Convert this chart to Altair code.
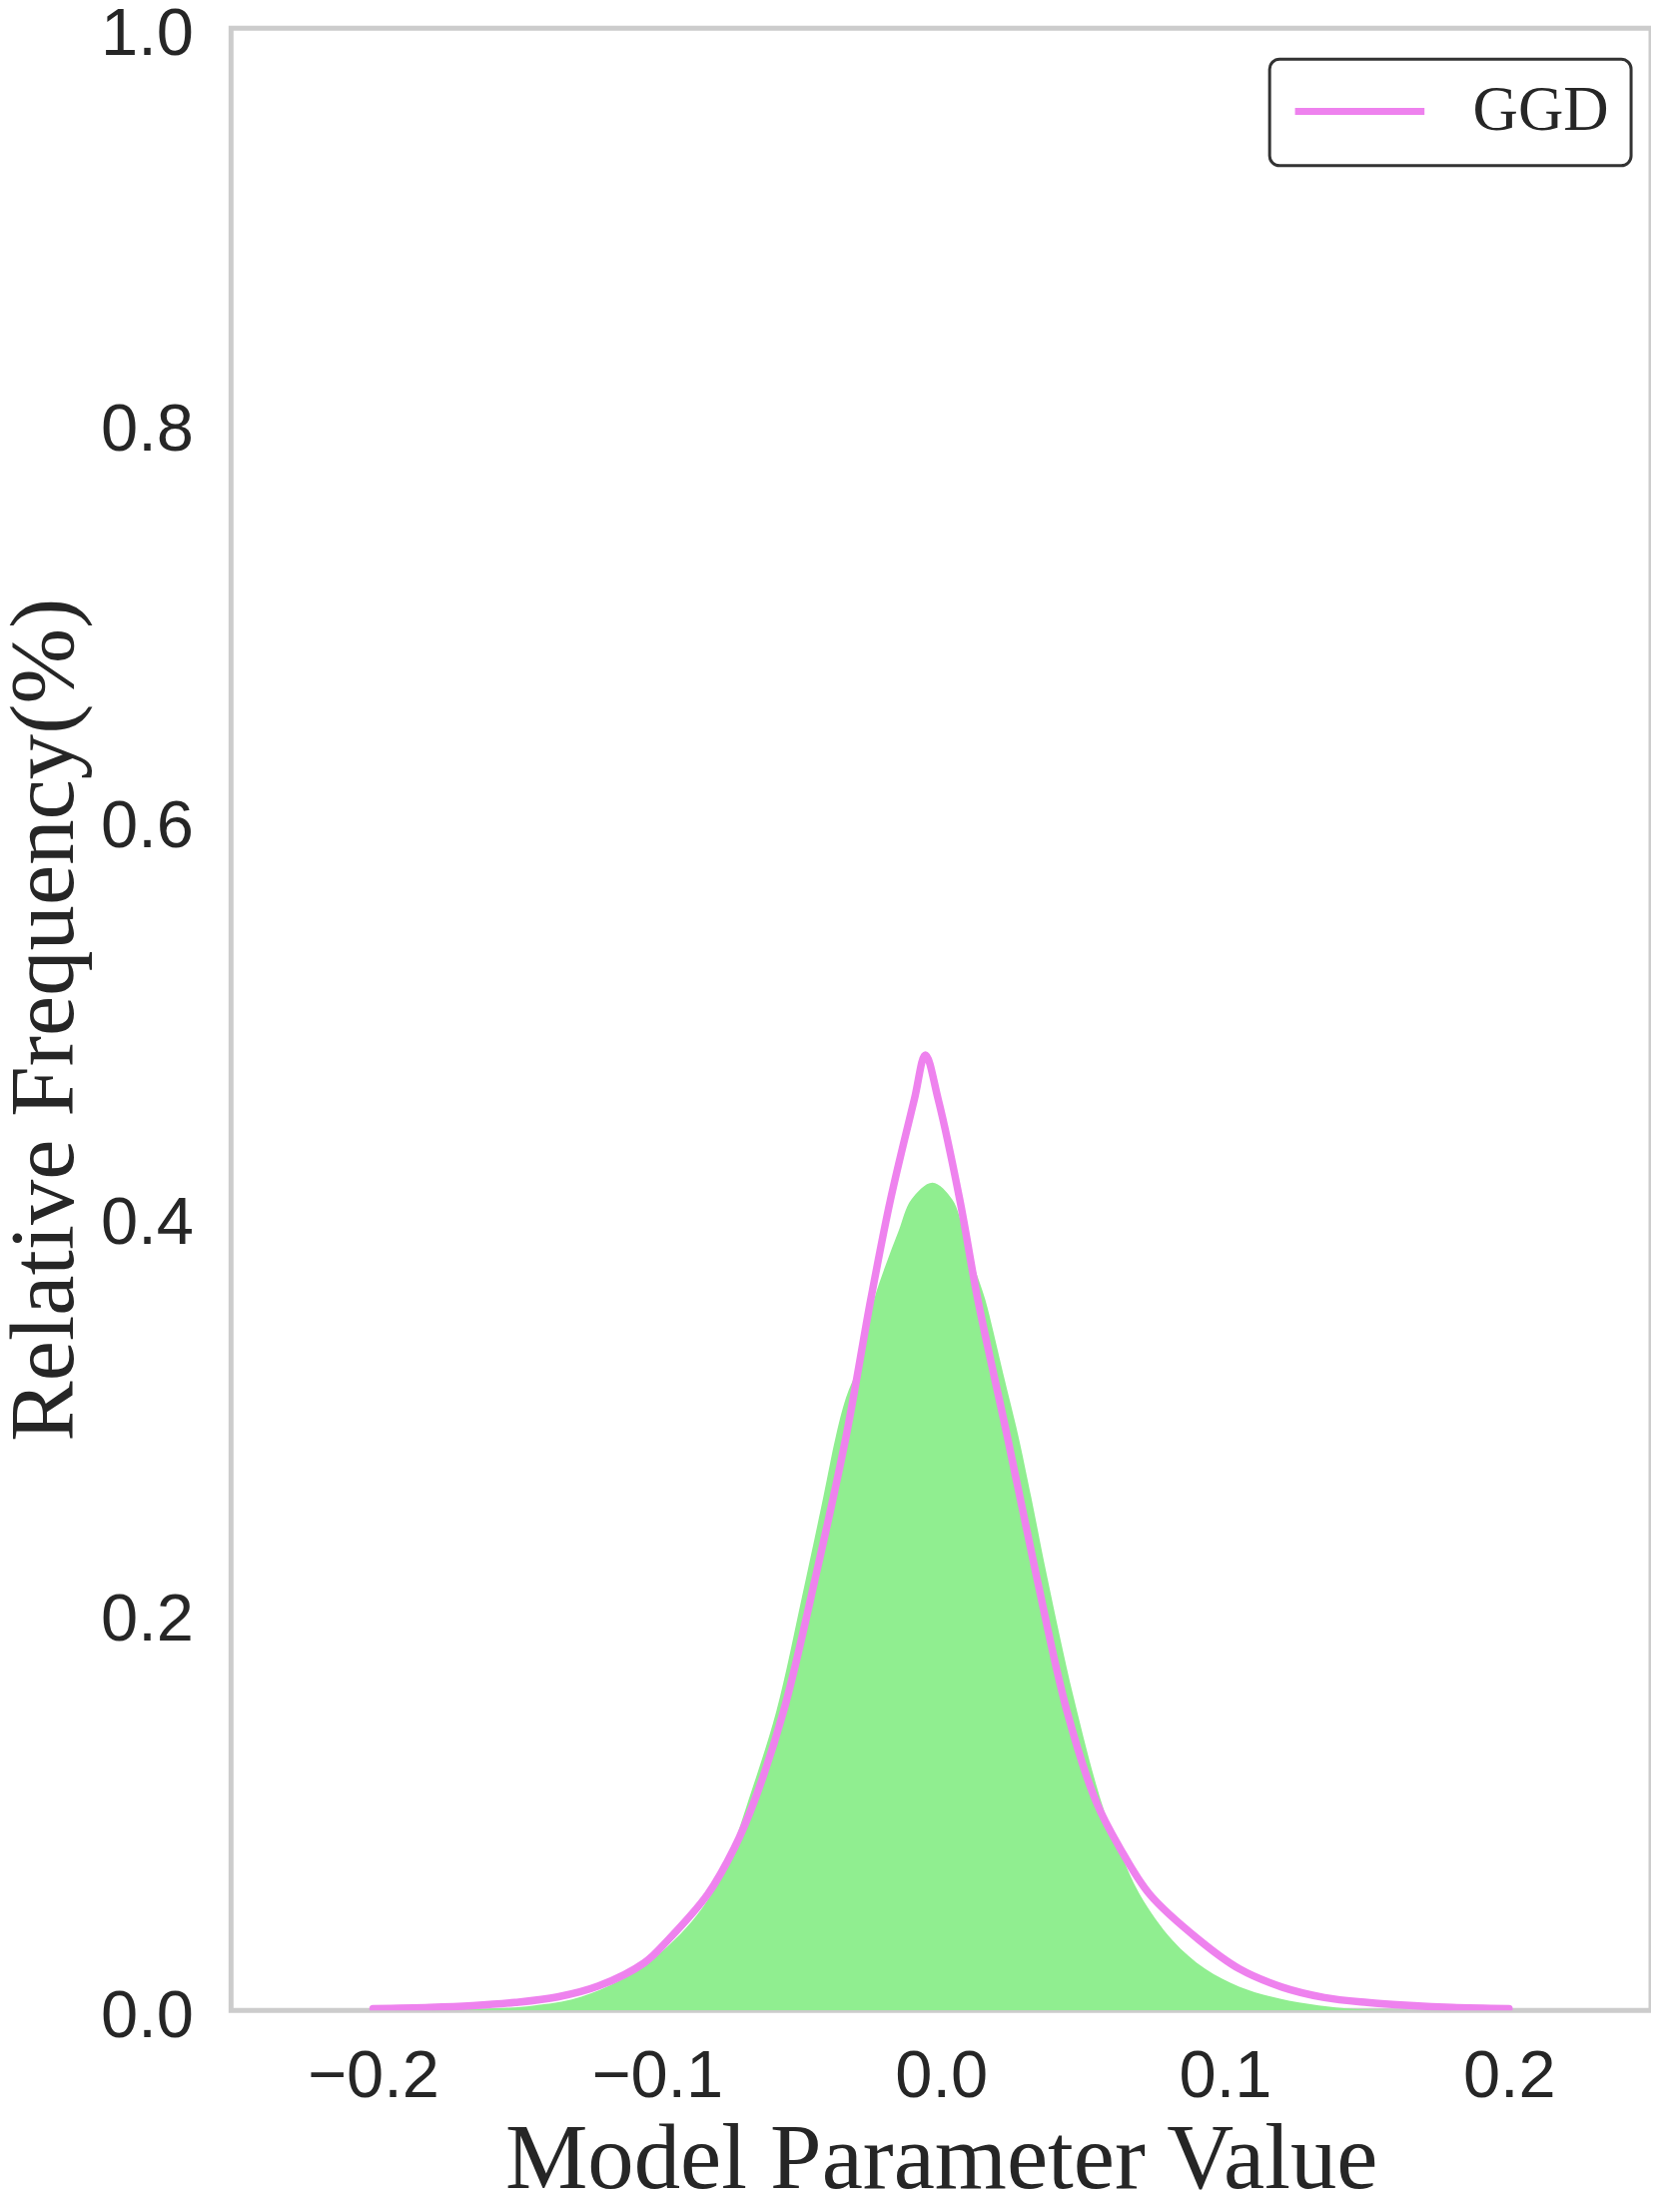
import altair as alt
import pandas as pd

# GGD fitted curve
ggd_x = [-0.200, -0.180, -0.165, -0.150, -0.135, -0.1206, -0.1045, -0.0962, -0.0822, -0.0728,
         -0.0659, -0.0554, -0.0439, -0.0334, -0.0247, -0.0178, -0.0094, -0.0055, -0.001, 0.0066,
         0.0129, 0.0233, 0.0334, 0.0443, 0.0547, 0.063, 0.0735, 0.091, 0.105, 0.120,
         0.135, 0.150, 0.165, 0.180, 0.200]
ggd_y = [0.0009, 0.0015, 0.0024, 0.0040, 0.0068, 0.0123, 0.0240, 0.0354, 0.0585, 0.0819,
         0.1050, 0.1512, 0.2205, 0.2898, 0.3590, 0.4090, 0.4596, 0.4820, 0.4596, 0.4090,
         0.3590, 0.2898, 0.2205, 0.1512, 0.1050, 0.0819, 0.0585, 0.0354, 0.0210, 0.0118,
         0.0065, 0.0040, 0.0025, 0.0015, 0.0009]

# Histogram of parameters (outline)
hist_x = [-0.200, -0.180, -0.160, -0.145, -0.130, -0.117, -0.105, -0.094, -0.086, -0.0795,
          -0.0735, -0.0685, -0.058, -0.049, -0.0415, -0.037, -0.0335, -0.029, -0.026, -0.0235,
          -0.0195, -0.015, -0.0105, -0.003, 0.004, 0.008, 0.0115, 0.0155, 0.0185, 0.0212,
          0.024, 0.0272, 0.0318, 0.0372, 0.0467, 0.0565, 0.0625, 0.0700, 0.0815, 0.093,
          0.105, 0.119, 0.133, 0.145, 0.160, 0.200]
hist_y = [0.0, 0.0003, 0.0008, 0.0022, 0.0055, 0.0123, 0.0220, 0.0354, 0.0480, 0.0620,
          0.0820, 0.1030, 0.1510, 0.2084, 0.2587, 0.2900, 0.3090, 0.3255, 0.3420, 0.3590,
          0.3760, 0.3930, 0.4090, 0.4176, 0.4090, 0.3930, 0.3760, 0.3590, 0.3420, 0.3255,
          0.3090, 0.2900, 0.2587, 0.2200, 0.1580, 0.1050, 0.0820, 0.0585, 0.0354, 0.0210,
          0.0120, 0.0060, 0.0025, 0.0008, 0.0003, 0.0]

x_ticks = [-0.2, -0.1, 0.0, 0.1, 0.2]
y_ticks = [0.0, 0.2, 0.4, 0.6, 0.8, 1.0]
series_name = ["GGD"] * len(ggd_x)

df_ggd = pd.DataFrame({"x": ggd_x, "y": ggd_y, "series": series_name})
df_hist = pd.DataFrame({"x": hist_x, "y": hist_y})

TXT = "#262626"
W, H = 1426, 1990

x_axis = alt.Axis(values=x_ticks, format=".1f", title="Model Parameter Value",
                  grid=False, domain=False, ticks=False, tickSize=0,
                  labelFont="Liberation Sans", labelFontSize=67, labelColor=TXT,
                  labelPadding=87, labelBaseline="alphabetic", labelFlush=False,
                  labelOverlap=False,
                  titleFont="Liberation Serif", titleFontSize=93, titleFontWeight="normal",
                  titleColor=TXT, titleX=W / 2, titleY=178, titleBaseline="alphabetic",
                  titleAlign="center")
y_axis = alt.Axis(values=y_ticks, format=".1f", title="Relative Frequency(%)",
                  grid=False, domain=False, ticks=False, tickSize=0,
                  labelFont="Liberation Sans", labelFontSize=67, labelColor=TXT,
                  labelPadding=38, labelFlush=False, labelOverlap=False, labelOffset=6,
                  titleFont="Liberation Serif", titleFontSize=91, titleFontWeight="normal",
                  titleColor=TXT, titleX=-159, titleY=H / 2, titleAngle=270,
                  titleBaseline="alphabetic", titleAlign="center")

xs = alt.Scale(domain=[-0.25, 0.25], nice=False, zero=False)
ys = alt.Scale(domain=[0, 1], nice=False)

area = alt.Chart(df_hist).mark_area(color="#90EE90", opacity=1, interpolate="catmull-rom",
                                    clip=True).encode(
    x=alt.X("x:Q", scale=xs, axis=x_axis),
    y=alt.Y("y:Q", scale=ys, axis=y_axis),
)

line = alt.Chart(df_ggd).mark_line(strokeWidth=7.5, interpolate="catmull-rom",
                                   strokeJoin="round", strokeCap="round", clip=True).encode(
    x=alt.X("x:Q", scale=xs, axis=x_axis),
    y=alt.Y("y:Q", scale=ys, axis=y_axis),
    color=alt.Color("series:N",
                    scale=alt.Scale(domain=["GGD"], range=["#EE82EE"]),
                    legend=alt.Legend(orient="none", legendX=1043, legendY=31, title=None,
                                      symbolType="stroke", symbolSize=16900,
                                      symbolStrokeWidth=7, clipHeight=61,
                                      labelFont="Liberation Serif", labelFontSize=63,
                                      labelColor=TXT, labelOffset=45, padding=22,
                                      strokeColor="#333333", fillColor="white",
                                      cornerRadius=10)),
)

chart = alt.layer(area, line).properties(
    width=W, height=H,
    autosize=alt.AutoSizeParams(type="none"),
    padding={"left": 224, "top": 17, "right": 0, "bottom": 190},
    background="white",
).configure_view(stroke="#cccccc", strokeWidth=5).configure_legend(strokeWidth=3)

chart.save("out.html", embed_options={"renderer": "svg", "actions": False})
